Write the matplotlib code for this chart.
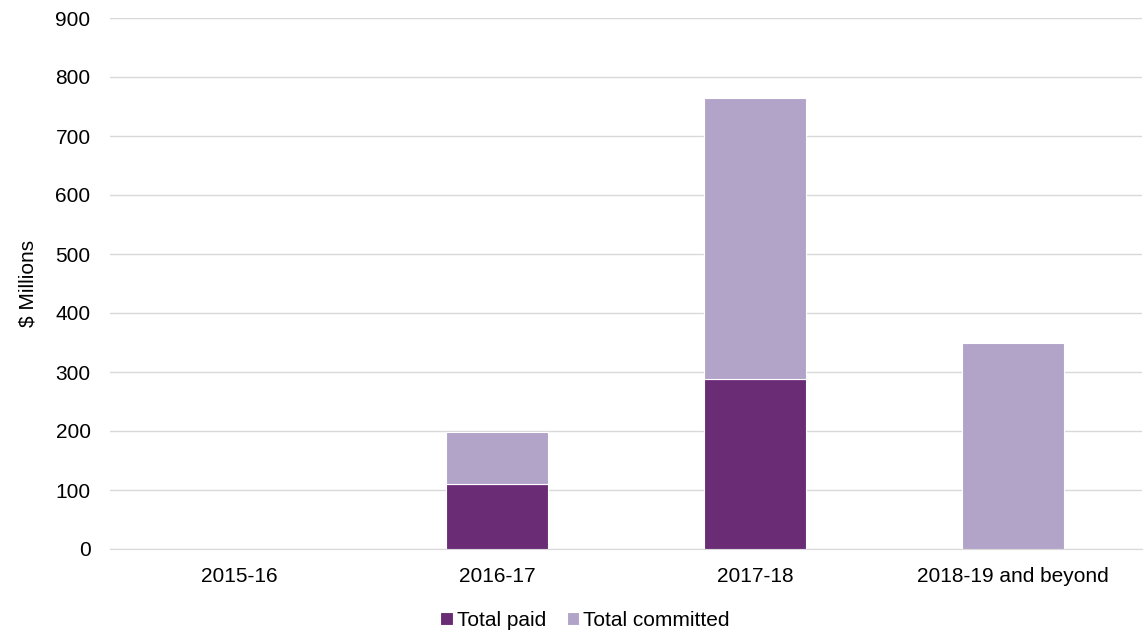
import matplotlib
matplotlib.use("Agg")
import matplotlib.pyplot as plt
import numpy as np

plt.rcParams['font.family'] = ['Liberation Sans', 'DejaVu Sans']

categories = ["2015-16", "2016-17", "2017-18", "2018-19 and beyond"]
total_paid = [0, 110, 288, 0]
total_committed = [0, 88, 476, 349]

PAID_COLOR = "#6B2C76"
COMMITTED_COLOR = "#B2A3C8"
FS = 15

fig = plt.figure(figsize=(11.46, 6.32), dpi=100)
ax = fig.add_axes([110 / 1146, 1 - 549 / 632, 1032 / 1146, 531 / 632])

x = np.arange(len(categories))
w = 0.395
ax.bar(x, total_paid, w, color=PAID_COLOR, edgecolor="white", linewidth=0.8,
       label="Total paid", zorder=3)
ax.bar(x, total_committed, w, bottom=total_paid, color=COMMITTED_COLOR,
       edgecolor="white", linewidth=0.8, label="Total committed", zorder=3)

ax.set_xlim(-0.5, len(categories) - 0.5)
ax.set_ylim(0, 900)
ax.set_yticks(range(0, 901, 100))
ax.set_xticks(x)
ax.set_xticklabels(categories)
ax.yaxis.grid(True, color="#D9D9D9", linewidth=1, zorder=0)
for s in ["top", "right", "left"]:
    ax.spines[s].set_visible(False)
ax.spines["bottom"].set_color("#D9D9D9")
ax.tick_params(axis="both", length=0, labelsize=FS, colors="black")
ax.tick_params(axis="x", pad=13)
ax.tick_params(axis="y", pad=14)
ax.set_ylabel("$ Millions", fontsize=FS)
ax.yaxis.set_label_coords(-0.07, 0.5)

fig.legend(*ax.get_legend_handles_labels(), loc="center",
           bbox_to_anchor=(585 / 1146, 1 - 620 / 632), ncol=2, frameon=False,
           fontsize=FS, handlelength=0.6, handleheight=0.6, handletextpad=0.2,
           columnspacing=1.0)

fig.savefig("out.png", dpi=100)
